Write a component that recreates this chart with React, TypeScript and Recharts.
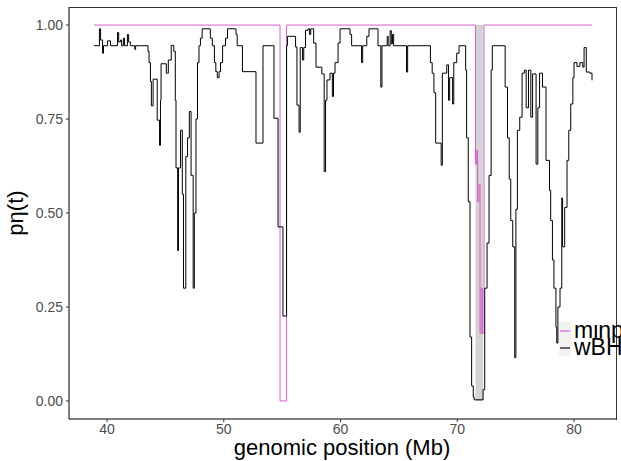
import { LineChart, Line, XAxis, YAxis, ReferenceArea } from 'recharts'

// [position (Mb), p-value] step points
const wbhSteps: [number, number][] = [
  [38.89, 0.945], [39.35, 0.99], [39.45, 0.96], [39.62, 0.925], [39.7, 0.945], [40.05, 0.958], [40.3, 0.945],
  [40.9, 0.98], [41.0, 0.955], [41.15, 0.96], [41.25, 0.945], [41.4, 0.965], [41.5, 0.945], [41.75, 0.975],
  [41.85, 0.955], [42.0, 0.945], [42.38, 0.935], [42.45, 0.945], [43.51, 0.93], [43.6, 0.9], [43.72, 0.85],
  [43.8, 0.785], [43.95, 0.856], [44.3, 0.747], [44.5, 0.68], [44.58, 0.8], [44.63, 0.897], [45.08, 0.872],
  [45.25, 0.907], [45.5, 0.946], [45.72, 0.93], [45.85, 0.8], [45.91, 0.62], [46.05, 0.4], [46.12, 0.62],
  [46.3, 0.72], [46.45, 0.55], [46.55, 0.3], [46.75, 0.65], [46.9, 0.7], [47.05, 0.77], [47.2, 0.6],
  [47.38, 0.3], [47.48, 0.5], [47.62, 0.75], [47.75, 0.9], [47.88, 0.945], [48.0, 0.965], [48.15, 0.99],
  [48.85, 0.965], [49.02, 0.945], [49.2, 0.9], [49.32, 0.876], [49.45, 0.86], [49.6, 0.876], [49.72, 0.9],
  [49.9, 0.945], [50.15, 0.965], [50.32, 0.99], [51.05, 0.975], [51.15, 0.945], [51.6, 0.876], [52.76, 0.686],
  [53.36, 0.945], [54.3, 0.752], [54.65, 0.463], [55.07, 0.226], [55.38, 0.945], [55.45, 0.97], [56.15, 0.942],
  [56.27, 0.787], [56.45, 0.715], [56.55, 0.94], [56.75, 0.907], [56.85, 0.94], [57.0, 0.986], [57.22, 0.99],
  [57.35, 0.975], [57.45, 0.99], [57.7, 0.952], [57.9, 0.888], [58.4, 0.87], [58.6, 0.61], [58.72, 0.8],
  [58.84, 0.854], [59.1, 0.872], [59.3, 0.81], [59.4, 0.872], [59.53, 0.9], [59.79, 0.952], [59.96, 0.99],
  [60.81, 0.975], [60.95, 0.945], [61.8, 0.9], [61.9, 0.945], [62.25, 0.97], [62.44, 0.99], [63.21, 0.945],
  [63.45, 0.835], [63.55, 0.945], [64.0, 0.97], [64.08, 0.945], [64.25, 0.985], [64.35, 0.95], [64.45, 0.975],
  [64.55, 0.945], [65.65, 0.875], [65.75, 0.945], [67.7, 0.9], [67.85, 0.872], [68.0, 0.82], [68.15, 0.686],
  [68.62, 0.627], [68.72, 0.872], [69.1, 0.894], [69.25, 0.8], [69.35, 0.86], [69.6, 0.79], [69.7, 0.9],
  [69.95, 0.925], [70.15, 0.945], [70.72, 0.88], [70.8, 0.7], [70.94, 0.53], [71.09, 0.17], [71.23, 0.04],
  [71.37, 0.01], [71.45, 0.003], [72.21, 0.03], [72.35, 0.3], [72.55, 0.42], [72.72, 0.6], [72.9, 0.88],
  [73.0, 0.945], [74.1, 0.835], [74.3, 0.7], [74.45, 0.59], [74.58, 0.48], [74.75, 0.41], [74.92, 0.115],
  [75.02, 0.51], [75.15, 0.72], [75.35, 0.755], [75.55, 0.872], [75.75, 0.88], [75.9, 0.78], [76.1, 0.88],
  [76.3, 0.755], [76.45, 0.87], [76.75, 0.63], [76.9, 0.78], [77.05, 0.872], [77.3, 0.835], [77.6, 0.64],
  [77.9, 0.56], [78.0, 0.48], [78.15, 0.375], [78.28, 0.3], [78.45, 0.196], [78.52, 0.154], [78.62, 0.25],
  [78.8, 0.3], [78.95, 0.54], [79.02, 0.41], [79.2, 0.515], [79.4, 0.64], [79.55, 0.72], [79.72, 0.79],
  [79.9, 0.86], [80.0, 0.9], [80.25, 0.89], [80.5, 0.9], [80.75, 0.888], [80.86, 0.94], [81.05, 0.875],
  [81.35, 0.872], [81.54, 0.853],
]

const minpSteps: [number, number][] = [
  [38.89, 1], [54.82, 0], [55.38, 1], [71.56, 0.63], [71.66, 0.667], [71.74, 0.53], [71.86, 0.575],
  [71.95, 0.18], [72.05, 0.3], [72.15, 0.18], [72.29, 1], [81.54, 1],
]

// shaded region around the minp dip
const bandX = [71.56, 72.21]
const bandY = [0, 1]

const xTicks = [40, 50, 60, 70, 80]
const yTicks = [0, 0.25, 0.5, 0.75, 1]

const wbh = wbhSteps.map(([x, y]) => ({ x, y }))
const minp = minpSteps.map(([x, y]) => ({ x, y }))

const font = '"Liberation Sans", Arial, sans-serif'

export default function App() {
  return (
    <div
      style={{
        position: 'relative',
        width: 621,
        height: 461,
        overflow: 'hidden',
        background: '#fff',
        fontFamily: font,
      }}
    >
      <style>{'html,body{margin:0;padding:0}'}</style>
      <LineChart width={621} height={461} margin={{ top: 7, right: 4, bottom: 0, left: 0 }}>
        <XAxis
          type="number"
          dataKey="x"
          domain={[36.745, 83.68]}
          ticks={xTicks}
          allowDataOverflow
          height={42}
          tickSize={3}
          tickMargin={2}
          stroke="#000"
          tickLine={{ stroke: '#333' }}
          tick={{ fill: '#4d4d4d', fontSize: 14, fontFamily: font }}
        />
        <YAxis
          type="number"
          dataKey="y"
          domain={[-0.048, 1.048]}
          ticks={yTicks}
          allowDataOverflow
          width={69}
          tickSize={3}
          tickMargin={3}
          stroke="#000"
          tickLine={{ stroke: '#333' }}
          tickFormatter={(v: number) => v.toFixed(2)}
          tick={{ fill: '#4d4d4d', fontSize: 14, fontFamily: font }}
        />
        <ReferenceArea x1={bandX[0]} x2={bandX[1]} y1={bandY[0]} y2={bandY[1]} fill="#d3d3d3" fillOpacity={1} stroke="none" />
        <Line data={minp} dataKey="y" type="stepAfter" stroke="#d65fcf" strokeWidth={1} dot={false} isAnimationActive={false} />
        <Line data={wbh} dataKey="y" type="stepAfter" stroke="#000" strokeWidth={1} dot={false} isAnimationActive={false} />
      </LineChart>

      {/* top and right panel border */}
      <div
        style={{
          position: 'absolute',
          left: 69,
          top: 6.5,
          width: 548,
          height: 413,
          borderTop: '1px solid #333',
          borderRight: '1px solid #333',
          boxSizing: 'border-box',
          pointerEvents: 'none',
        }}
      />

      <div
        style={{
          position: 'absolute',
          left: 16,
          top: 213,
          transform: 'translate(-50%, -50%) rotate(-90deg)',
          fontSize: 22,
          lineHeight: '22px',
          whiteSpace: 'nowrap',
          color: '#000',
        }}
      >
        pη(t)
      </div>

      <div
        style={{
          position: 'absolute',
          left: 342,
          top: 437,
          transform: 'translateX(-50%)',
          fontSize: 22,
          lineHeight: '22px',
          whiteSpace: 'nowrap',
          color: '#000',
        }}
      >
        genomic position (Mb)
      </div>

      {/* legend, cut off by the right edge as in the original */}
      <div style={{ position: 'absolute', left: 559, top: 322, width: 62, overflow: 'hidden', whiteSpace: 'nowrap' }}>
        {[
          { name: 'minp', color: '#e39be0' },
          { name: 'wBH', color: '#666' },
        ].map((item) => (
          <div key={item.name} style={{ display: 'flex', alignItems: 'center', height: 17 }}>
            <div style={{ width: 12, height: 17, flex: 'none', background: '#f2f2f2', position: 'relative' }}>
              <div style={{ position: 'absolute', left: 1, right: 1, top: 8, height: 2, background: item.color }} />
            </div>
            <span style={{ marginLeft: 3, fontSize: 23, lineHeight: '17px', color: '#000' }}>{item.name}</span>
          </div>
        ))}
      </div>
    </div>
  )
}
